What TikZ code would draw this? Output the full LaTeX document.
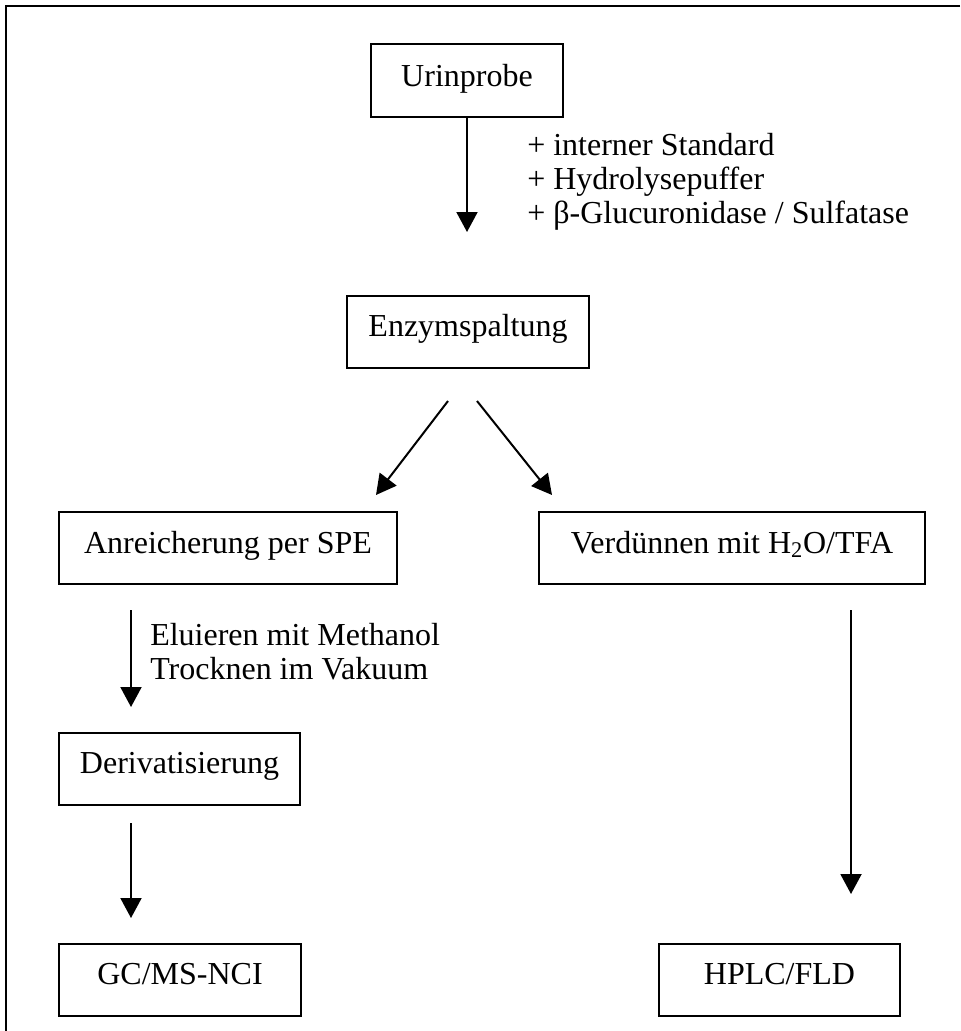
\documentclass[tikz,border=0pt]{standalone}
\usepackage{fontspec}
\setmainfont{Liberation Serif}
\usetikzlibrary{arrows.meta}
\newdimen\unitpx
\unitpx=0.75pt
\begin{document}
\begin{tikzpicture}[x=0.75pt,y=-0.75pt,
  font=\fontsize{24pt}{25.5pt}\selectfont,
  stepbox/.style={draw, line width=1.5pt, inner sep=0pt, anchor=north west,
    minimum height=54pt, text height=30pt, text depth=24pt},
  flow/.style={line width=1.5pt, -{Triangle[width=15.75pt,length=15pt]}},
  note/.style={anchor=base west, inner sep=0pt}]
\useasboundingbox (0,0) rectangle (960,1031);

% frame (open to the right and bottom)
\draw[line width=1.5pt] (960,6) -- (6,6) -- (6,1031);

% process steps
\node[stepbox, minimum width=192\unitpx, text height=31.5pt, text depth=23.25pt] (urin) at (370,43) {Urinprobe};
\node[stepbox, minimum width=242\unitpx] (enzym) at (346,295) {Enzymspaltung};
\node[stepbox, minimum width=338\unitpx, text height=30.75pt, text depth=23.25pt] (spe) at (58,511) {Anreicherung per SPE};
\node[stepbox, minimum width=386\unitpx, text height=30.75pt, text depth=23.25pt] (dil) at (538,511) {Verdünnen mit H\textsubscript{2}O/TFA};
\node[stepbox, minimum width=241\unitpx] (deriv) at (58,732)  {Derivatisierung};
\node[stepbox, minimum width=242\unitpx] (gcms)  at (58,943)  {GC/MS-NCI};
\node[stepbox, minimum width=241\unitpx] (hplc)  at (658,943) {HPLC/FLD};

% reagents and working steps
\node[note] (r1) at (527,155) {+ interner Standard};
\node[note] (r2) at (527,189) {+ Hydrolysepuffer};
\node[note] (r3) at (527,223) {+ β-Glucuronidase / Sulfatase};
\node[note] (w1) at (150,645) {Eluieren mit Methanol};
\node[note] (w2) at (150,679) {Trocknen im Vakuum};

% arrow end points
\coordinate (a1e) at (467,232);
\coordinate (b1s) at (448,401);
\coordinate (b1e) at (376,495);
\coordinate (b2s) at (477,401);
\coordinate (b2e) at (552,495);
\coordinate (c1s) at (131,610);
\coordinate (c1e) at (131,707);
\coordinate (c2s) at (131,823);
\coordinate (c2e) at (131,918);
\coordinate (d1s) at (851,610);
\coordinate (d1e) at (851,894);

% connectors
\draw[flow] (urin.south -| a1e) -- (a1e);
\draw[flow] (b1s) -- (b1e);
\draw[flow] (b2s) -- (b2e);
\draw[flow] (c1s) -- (c1e);
\draw[flow] (c2s) -- (c2e);
\draw[flow] (d1s) -- (d1e);
\end{tikzpicture}
\end{document}
